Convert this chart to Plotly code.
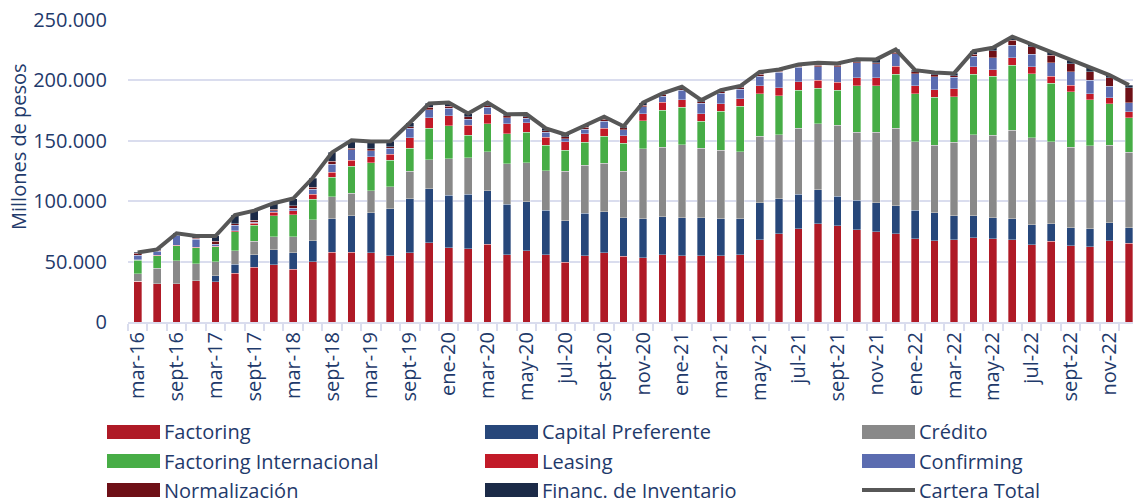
import plotly.graph_objects as go

# ---------------- data (millones de pesos, in thousands) ----------------
categories = [
    "mar-16", "jun-16", "sept-16", "dic-16",
    "mar-17", "jun-17", "sept-17", "dic-17",
    "mar-18", "jun-18", "sept-18", "dic-18",
    "mar-19", "jun-19", "sept-19", "dic-19",
    "ene-20", "feb-20", "mar-20", "abr-20", "may-20", "jun-20",
    "jul-20", "ago-20", "sept-20", "oct-20", "nov-20", "dic-20",
    "ene-21", "feb-21", "mar-21", "abr-21", "may-21", "jun-21",
    "jul-21", "ago-21", "sept-21", "oct-21", "nov-21", "dic-21",
    "ene-22", "feb-22", "mar-22", "abr-22", "may-22", "jun-22",
    "jul-22", "ago-22", "sept-22", "oct-22", "nov-22", "dic-22",
]

shown_x_labels = [
    "mar-16", "sept-16", "mar-17", "sept-17", "mar-18", "sept-18", "mar-19",
    "sept-19", "ene-20", "mar-20", "may-20", "jul-20", "sept-20", "nov-20",
    "ene-21", "mar-21", "may-21", "jul-21", "sept-21", "nov-21",
    "ene-22", "mar-22", "may-22", "jul-22", "sept-22", "nov-22",
]

factoring = [33.8, 31.6, 31.6, 34.3, 33.5, 40.2, 45.4, 47.4, 43.5, 49.8, 57.6, 57.6,
             57.5, 54.7, 57.5, 65.5, 61.3, 60.8, 64.4, 55.8, 58.8, 55.8, 49.4, 54.7,
             57.2, 54.4, 53.3, 55.8, 54.7, 54.7, 54.7, 55.8, 67.9, 73.2, 77.3, 81.2,
             79.5, 76.5, 74.6, 73.0, 69.1, 67.4, 67.9, 69.9, 69.1, 67.9, 64.1, 66.8,
             63.0, 62.1, 67.4, 65.2]
capital_preferente = [0, 0, 0, 0, 4.7, 7.7, 10.3, 12.4, 13.8, 17.3, 28.0, 30.3,
                      32.8, 39.2, 44.4, 44.7, 43.7, 45.0, 44.1, 41.7, 40.6, 36.7, 34.3, 35.3,
                      33.9, 32.1, 32.0, 31.5, 31.5, 31.5, 30.6, 29.8, 30.7, 28.7, 28.5, 28.2,
                      24.6, 24.3, 24.0, 23.3, 23.4, 22.9, 20.2, 18.2, 17.1, 17.4, 16.6, 14.4,
                      14.9, 15.0, 14.6, 12.7]
credito = [6.1, 12.7, 19.1, 13.9, 11.7, 11.1, 11.1, 10.8, 13.3, 17.7, 18.0, 18.5,
           18.2, 18.2, 22.7, 24.3, 30.3, 30.1, 32.6, 33.4, 32.6, 32.9, 40.9, 39.8,
           40.4, 38.3, 58.0, 57.2, 60.7, 57.7, 56.7, 55.5, 55.0, 53.3, 54.4, 54.9,
           58.6, 56.1, 58.3, 64.3, 56.7, 56.1, 60.5, 67.1, 68.5, 73.5, 71.8, 68.0,
           66.6, 69.0, 64.4, 62.7]
factoring_internacional = [11.1, 10.5, 12.5, 13.3, 12.4, 15.8, 13.3, 17.2, 18.0, 16.9, 16.1, 22.7,
                           23.2, 21.6, 19.3, 25.7, 27.1, 18.8, 23.0, 24.9, 25.2, 21.0, 17.6, 19.1,
                           22.3, 23.2, 23.5, 30.9, 31.0, 22.4, 32.6, 37.6, 35.3, 32.1, 31.8, 29.3,
                           29.3, 38.7, 38.7, 44.6, 39.7, 39.8, 37.8, 49.7, 48.6, 53.9, 53.0, 48.3,
                           46.1, 37.9, 34.2, 28.4]
leasing = [0.5, 0.4, 0.3, 0.3, 0.4, 0.6, 1.5, 3.0, 3.6, 3.9, 4.4, 5.0,
           5.0, 5.0, 8.8, 8.8, 8.3, 8.3, 8.0, 8.3, 7.7, 6.6, 6.9, 6.9,
           6.4, 6.1, 5.5, 6.4, 6.1, 6.1, 6.1, 6.1, 6.6, 6.6, 6.9, 6.6,
           6.6, 6.6, 6.6, 6.4, 6.6, 6.1, 6.6, 6.4, 5.5, 6.1, 5.8, 5.8,
           5.2, 5.0, 5.0, 5.0]
confirming = [3.8, 3.2, 8.5, 6.9, 1.6, 4.7, 1.0, 1.4, 1.9, 4.4, 6.6, 8.3,
              5.0, 5.0, 7.5, 6.9, 6.1, 5.0, 5.5, 5.0, 3.6, 4.1, 2.8, 3.9,
              6.1, 5.0, 5.8, 5.2, 8.0, 8.6, 8.6, 8.0, 8.0, 12.7, 11.9, 11.3,
              12.7, 12.4, 11.6, 10.6, 9.9, 10.8, 9.7, 8.6, 9.9, 10.2, 10.5, 11.3,
              11.3, 11.3, 9.4, 7.7]
normalizacion = [1.5, 1.0, 0.8, 0.8, 2.5, 1.2, 1.5, 1.1, 2.2, 1.6, 2.2, 1.4,
                 1.9, 1.4, 1.4, 1.7, 1.9, 1.9, 1.4, 1.5, 1.4, 1.4, 1.4, 1.4,
                 1.4, 1.7, 1.4, 1.4, 1.4, 1.4, 1.4, 1.4, 1.4, 1.1, 1.1, 1.1,
                 1.1, 0.8, 0.8, 1.2, 1.7, 1.4, 1.1, 1.7, 5.7, 4.4, 6.1, 6.4,
                 6.6, 6.9, 7.2, 12.2]
financ_inventario = [0.8, 0.7, 0.6, 1.7, 4.4, 7.3, 8.1, 5.0, 5.9, 7.6, 7.5, 6.7,
                     5.8, 4.6, 3.4, 3.3, 3.0, 2.7, 2.7, 1.3, 2.2, 1.7, 1.9, 1.9,
                     2.2, 1.3, 2.2, 0.8, 1.3, 1.3, 1.3, 1.1, 2.1, 1.3, 1.3, 2.0,
                     1.6, 2.2, 2.8, 2.3, 1.4, 2.1, 2.0, 2.7, 2.6, 2.8, 1.9, 2.7,
                     3.1, 3.3, 2.2, 2.2]
cartera_total = [57.6, 60.1, 73.4, 71.2, 71.2, 88.6, 92.2, 98.3, 102.2, 119.2, 140.4, 150.5,
                 149.4, 149.7, 165.0, 180.9, 181.7, 172.6, 181.7, 171.9, 172.1, 160.2, 155.2, 163.0,
                 169.9, 162.1, 181.7, 189.2, 194.7, 183.7, 192.0, 195.3, 207.0, 209.0, 213.2, 214.6,
                 214.0, 217.6, 217.4, 225.7, 208.5, 206.6, 205.8, 224.3, 227.0, 236.2, 229.8, 223.7,
                 216.8, 210.5, 204.4, 196.1]

y_tick_values = [0, 50, 100, 150, 200, 250]
y_tick_labels = ["0", "50.000", "100.000", "150.000", "200.000", "250.000"]

series_names = ["Factoring", "Capital Preferente", "Crédito", "Factoring Internacional",
                "Leasing", "Confirming", "Normalización", "Financ. de Inventario"]
series_values = [factoring, capital_preferente, credito, factoring_internacional,
                 leasing, confirming, normalizacion, financ_inventario]
series_colors = ["#AF1A26", "#27477A", "#898989", "#47AD46",
                 "#C21A28", "#5B6CB0", "#6E1017", "#1B2A47"]
line_name = "Cartera Total"
line_color = "#575757"

TEXT = "#1F3A6B"
GRID = "#DADDEE"
FONT = "Open Sans"

# ---------------- figure ----------------
fig = go.Figure()
for name, vals, col in zip(series_names, series_values, series_colors):
    fig.add_trace(go.Bar(
        x=categories, y=vals, name=name,
        marker=dict(color=col, line=dict(color="rgba(255,255,255,0.55)", width=0.6)),
        showlegend=False,
    ))
fig.add_trace(go.Scatter(
    x=categories, y=cartera_total, name=line_name, mode="lines",
    line=dict(color=line_color, width=4), showlegend=False,
))

ticktext = [c if c in shown_x_labels else "" for c in categories]

W, H = 1133, 504
L, R, T, B = 128, 0, 20, 182
pw, ph = W - L - R, H - T - B


def px_x(px):
    return (px - L) / pw


def px_y(py):
    return (H - B - py) / ph


fig.update_layout(
    width=W, height=H,
    margin=dict(l=L, r=R, t=T, b=B, pad=0),
    paper_bgcolor="white", plot_bgcolor="white",
    barmode="stack", bargap=0.6,
    font=dict(family=FONT, color=TEXT, size=20),
    xaxis=dict(
        type="category", categoryorder="array", categoryarray=categories,
        tickmode="array", tickvals=categories, ticktext=ticktext,
        tickson="boundaries", ticks="outside", ticklen=7, tickwidth=1.5, tickcolor=GRID,
        tickangle=-90, tickfont=dict(family=FONT, size=20, color=TEXT),
        showline=True, linecolor=GRID, linewidth=2, showgrid=False,
        range=[-0.5, 51.21],
    ),
    yaxis=dict(
        range=[0, 250], tickmode="array", tickvals=y_tick_values, ticktext=y_tick_labels,
        showgrid=True, gridcolor=GRID, gridwidth=2, zeroline=False, showline=False,
        ticks="", ticklabelstandoff=20,
        tickfont=dict(family=FONT, size=20, color=TEXT),
    ),
)

annotations = [dict(
    text="Millones de pesos", xref="paper", yref="paper",
    x=px_x(18), y=px_y(147), xanchor="center", yanchor="middle",
    textangle=-90, showarrow=False, font=dict(family=FONT, size=20, color=TEXT),
)]
shapes = []

legend_items = [
    ("Factoring", series_colors[0], "bar", 107, 432),
    ("Capital Preferente", series_colors[1], "bar", 485, 432),
    ("Crédito", series_colors[2], "bar", 862, 432),
    ("Factoring Internacional", series_colors[3], "bar", 107, 461),
    ("Leasing", series_colors[4], "bar", 485, 461),
    ("Confirming", series_colors[5], "bar", 862, 461),
    ("Normalización", series_colors[6], "bar", 107, 490),
    ("Financ. de Inventario", series_colors[7], "bar", 485, 490),
    (line_name, line_color, "line", 862, 490),
]
for label, col, kind, x0, yc in legend_items:
    if kind == "bar":
        shapes.append(dict(type="rect", xref="paper", yref="paper",
                           x0=px_x(x0), x1=px_x(x0 + 53), y0=px_y(yc + 7), y1=px_y(yc - 7),
                           fillcolor=col, line=dict(width=0)))
    else:
        shapes.append(dict(type="line", xref="paper", yref="paper",
                           x0=px_x(x0), x1=px_x(x0 + 53), y0=px_y(yc), y1=px_y(yc),
                           line=dict(color=col, width=4)))
    annotations.append(dict(
        text=label, xref="paper", yref="paper", x=px_x(x0 + 55), y=px_y(yc),
        xanchor="left", yanchor="middle", showarrow=False,
        font=dict(family=FONT, size=20, color=TEXT),
    ))

fig.update_layout(annotations=annotations, shapes=shapes)

fig.write_html("out.html", config={"displayModeBar": False},
               post_script="document.body.style.margin='0px';")
